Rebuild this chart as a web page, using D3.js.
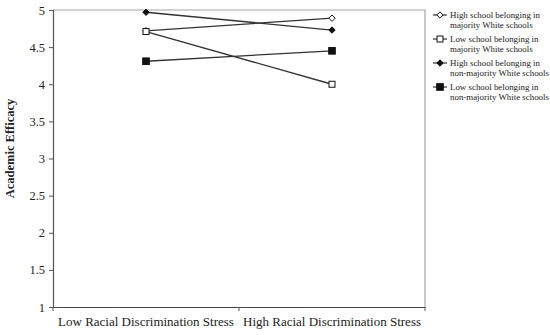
<!DOCTYPE html>
<html><head><meta charset="utf-8">
<script src="https://cdn.jsdelivr.net/npm/d3@7"></script>
<style>body{margin:0;background:#fff}svg{display:block}text{font-family:"Liberation Serif","Times New Roman",serif}</style>
</head><body>
<svg id="c" width="550" height="335"></svg>
<script>
const categories = ["Low Racial Discrimination Stress", "High Racial Discrimination Stress"];
const seriesNames = ["High school belonging in|majority White schools",
  "Low school belonging in|majority White schools",
  "High school belonging in|non-majority White schools",
  "Low school belonging in|non-majority White schools"];
const highMajority = [4.72, 4.89];
const lowMajority = [4.71, 4.00];
const highNonMajority = [4.97, 4.73];
const lowNonMajority = [4.31, 4.45];
const yTicks = [1, 1.5, 2, 2.5, 3, 3.5, 4, 4.5, 5];
const markers = ["openDiamond", "openSquare", "filledDiamond", "filledSquare"];

const series = [highMajority, lowMajority, highNonMajority, lowNonMajority];
const svg = d3.select("#c");
const L = 53, R = 425, T = 10, B = 307;
const x = d3.scaleBand().domain(categories).range([L, R]).padding(0);
const y = d3.scaleLinear().domain([1, 5]).range([B, T]);

// frame (top + right)
svg.append("path").attr("d", `M${L},${T}H${R}V${B}`).attr("fill", "none").attr("stroke", "#a6a6a6").attr("stroke-width", 1.2);

// y axis
const ya = svg.append("g").attr("transform", `translate(${L},0)`)
  .call(d3.axisLeft(y).tickValues(yTicks).tickSize(4).tickPadding(4).tickFormat(d3.format("")));
ya.select(".domain").attr("stroke", "#555").attr("stroke-width", 1.2);
ya.selectAll(".tick line").attr("stroke", "#555");
ya.selectAll("text").attr("font-size", 12.5).attr("fill", "#222").attr("font-family", "Liberation Serif");

// x axis
const xa = svg.append("g").attr("transform", `translate(0,${B})`)
  .call(d3.axisBottom(x).tickSize(0).tickPadding(10));
xa.select(".domain").attr("stroke", "#444").attr("stroke-width", 1.2);
xa.selectAll("text").attr("font-size", 13).attr("fill", "#222").attr("font-family", "Liberation Serif");
const edges = [x(categories[0]), x(categories[1]), x(categories[1]) + x.bandwidth()];
xa.selectAll("line.edge").data(edges).enter().append("line").attr("class", "edge")
  .attr("x1", d => d).attr("x2", d => d).attr("y1", 0).attr("y2", 4).attr("stroke", "#555");

// y title
svg.append("text").attr("transform", `translate(14,${(T + B) / 2 - 10}) rotate(-90)`)
  .attr("text-anchor", "middle").attr("font-size", 12.5).attr("font-weight", "bold").attr("fill", "#222")
  .text("Academic Efficacy");

function drawMarker(g, type, cx, cy) {
  if (type.endsWith("Diamond")) {
    const s = 3.2;
    g.append("path").attr("d", `M${cx},${cy - s}L${cx + s},${cy}L${cx},${cy + s}L${cx - s},${cy}Z`)
      .attr("fill", type.startsWith("open") ? "#fff" : "#111").attr("stroke", "#111").attr("stroke-width", 1);
  } else {
    const s = type.startsWith("open") ? 3 : 3.3;
    g.append("rect").attr("x", cx - s).attr("y", cy - s).attr("width", 2 * s).attr("height", 2 * s)
      .attr("fill", type.startsWith("open") ? "#fff" : "#111").attr("stroke", "#111").attr("stroke-width", 1);
  }
}

const cx = c => x(c) + x.bandwidth() / 2;
const line = d3.line().x((d, i) => cx(categories[i])).y(d => y(d));
const drawOrder = [2, 3, 0, 1];
drawOrder.forEach(k => {
  const g = svg.append("g");
  g.append("path").attr("d", line(series[k])).attr("fill", "none").attr("stroke", "#333").attr("stroke-width", 1.3);
  series[k].forEach((v, i) => drawMarker(g, markers[k], cx(categories[i]), y(v)));
});

// legend
const lg = svg.append("g");
seriesNames.forEach((name, k) => {
  const yy = 15 + k * 24;
  const g = lg.append("g");
  g.append("line").attr("x1", 433).attr("x2", 447).attr("y1", yy).attr("y2", yy).attr("stroke", "#333").attr("stroke-width", 1.2);
  drawMarker(g, markers[k], 440, yy);
  const t = g.append("text").attr("x", 450).attr("y", yy + 3).attr("font-size", 8.9).attr("fill", "#222");
  name.split("|").forEach((ln, j) => t.append("tspan").attr("x", 450).attr("dy", j ? 9.5 : 0).text(ln));
});
</script>
</body></html>
